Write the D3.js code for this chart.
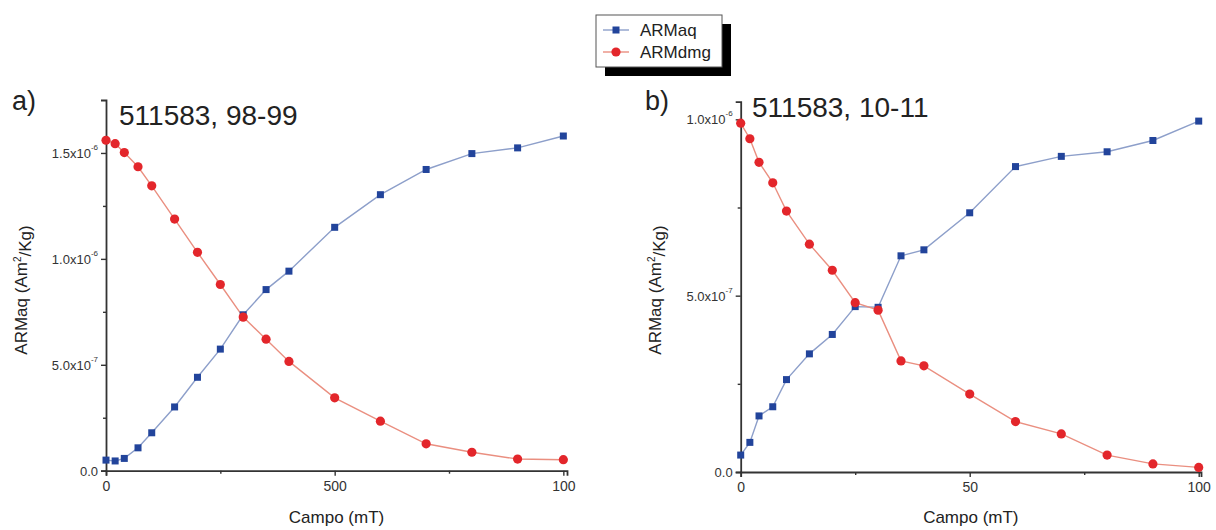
<!DOCTYPE html>
<html>
<head>
<meta charset="utf-8">
<script src="https://cdn.jsdelivr.net/npm/d3@7"></script>
<style>
  body { margin: 0; background: #fff; }
  text { font-family: Arial, "Liberation Sans", sans-serif; }
</style>
</head>
<body>
<svg id="chart" width="1216" height="530"></svg>
<script>
// panel a) 511583, 98-99
const fieldA = [0, 20, 40, 70, 100, 150, 200, 250, 300, 350, 400, 500, 600, 700, 800, 900, 1000];
const armaqA = [5.0e-8, 4.6e-8, 5.8e-8, 1.08e-7, 1.79e-7, 3.01e-7, 4.41e-7, 5.74e-7, 7.36e-7, 8.55e-7, 9.42e-7,
  1.149e-6, 1.303e-6, 1.422e-6, 1.497e-6, 1.524e-6, 1.58e-6];
const armdmgA = [1.56e-6, 1.544e-6, 1.502e-6, 1.435e-6, 1.345e-6, 1.188e-6, 1.031e-6, 8.79e-7, 7.25e-7, 6.21e-7, 5.16e-7,
  3.44e-7, 2.34e-7, 1.27e-7, 8.7e-8, 5.5e-8, 5.2e-8];
const xTicksA = [0, 500, 1000];
const xTickLabelsA = ["0", "500", "100"];
const xMinorA = [250, 750];
const yTicksA = [0, 5e-7, 1e-6, 1.5e-6];
const yTickLabelsA = ["0.0", "5.0x10^-7", "1.0x10^-6", "1.5x10^-6"];
const yMinorA = [2.5e-7, 7.5e-7, 1.25e-6];

// panel b) 511583, 10-11
const fieldB = [0, 2, 4, 7, 10, 15, 20, 25, 30, 35, 40, 50, 60, 70, 80, 90, 100];
const armaqB = [4.8e-8, 8.4e-8, 1.59e-7, 1.85e-7, 2.62e-7, 3.35e-7, 3.9e-7, 4.69e-7, 4.67e-7, 6.13e-7, 6.3e-7,
  7.35e-7, 8.66e-7, 8.95e-7, 9.08e-7, 9.4e-7, 9.95e-7];
const armdmgB = [9.89e-7, 9.45e-7, 8.78e-7, 8.2e-7, 7.4e-7, 6.46e-7, 5.72e-7, 4.8e-7, 4.59e-7, 3.15e-7, 3.01e-7,
  2.21e-7, 1.43e-7, 1.08e-7, 4.8e-8, 2.3e-8, 1.3e-8];
const xTicksB = [0, 50, 100];
const xTickLabelsB = ["0", "50", "100"];
const xMinorB = [25, 75];
const yTicksB = [0, 5e-7, 1e-6];
const yTickLabelsB = ["0.0", "5.0x10^-7", "1.0x10^-6"];
const yMinorB = [2.5e-7, 7.5e-7];

const seriesNames = ["ARMaq", "ARMdmg"];
const blue = "#22449b", blueLine = "#8d9fca";
const red = "#e3262b", redLine = "#ea8f80";
const axisColor = "#333";

const svg = d3.select("#chart");

function drawPanel(p) {
  const x = d3.scaleLinear().domain(p.xDomain).range(p.xRange);
  const y = d3.scaleLinear().domain(p.yDomain).range(p.yRange);
  const g = svg.append("g");

  // x axis
  const xAxis = g.append("g")
    .attr("transform", `translate(0,${p.yRange[0]})`)
    .call(d3.axisBottom(x).tickValues(p.xTicks).tickSizeOuter(0).tickSize(5)
      .tickFormat((d, i) => p.xLabels[i]));
  g.append("g")
    .attr("transform", `translate(0,${p.yRange[0]})`)
    .call(d3.axisBottom(x).tickValues(p.xMinor).tickSizeOuter(0).tickSize(3).tickFormat(""))
    .select(".domain").remove();

  // y axis
  const yAxis = g.append("g")
    .attr("transform", `translate(${p.xRange[0]},0)`)
    .call(d3.axisLeft(y).tickValues(p.yTicks).tickSizeOuter(0).tickSize(5).tickFormat(""));
  g.append("g")
    .attr("transform", `translate(${p.xRange[0]},0)`)
    .call(d3.axisLeft(y).tickValues(p.yMinor).tickSizeOuter(0).tickSize(3).tickFormat(""))
    .select(".domain").remove();

  g.selectAll(".domain").attr("stroke", axisColor).attr("stroke-width", 1.8);
  g.selectAll(".tick line").attr("stroke", axisColor).attr("stroke-width", 1.4);

  xAxis.selectAll(".tick text")
    .attr("font-size", 14).attr("fill", "#333").attr("dy", "0.85em");

  // y tick labels with superscript exponent
  yAxis.selectAll(".tick").each(function (d, i) {
    const parts = p.yLabels[i].split("^");
    const t = d3.select(this).append("text")
      .attr("x", -8).attr("dy", "0.35em")
      .attr("text-anchor", "end").attr("fill", "#333").attr("font-size", 13);
    t.append("tspan").text(parts[0]);
    if (parts[1]) {
      t.append("tspan").attr("font-size", 8).attr("dy", "-1em").text(parts[1]);
    }
  });

  const line = d3.line().x((d) => x(d[0])).y((d) => y(d[1]));
  const aq = p.field.map((f, i) => [f, p.armaq[i]]);
  const dmg = p.field.map((f, i) => [f, p.armdmg[i]]);

  g.append("path").datum(aq).attr("d", line)
    .attr("fill", "none").attr("stroke", blueLine).attr("stroke-width", 1.4);
  g.append("path").datum(dmg).attr("d", line)
    .attr("fill", "none").attr("stroke", redLine).attr("stroke-width", 1.4);

  g.selectAll(".sq").data(aq).enter().append("rect")
    .attr("x", (d) => x(d[0]) - 3.5).attr("y", (d) => y(d[1]) - 3.5)
    .attr("width", 7).attr("height", 7).attr("fill", blue);
  g.selectAll(".dot").data(dmg).enter().append("circle")
    .attr("cx", (d) => x(d[0])).attr("cy", (d) => y(d[1]))
    .attr("r", 4.6).attr("fill", red);

  // axis titles
  g.append("text")
    .attr("x", (p.xRange[0] + p.xRange[1]) / 2).attr("y", 523)
    .attr("text-anchor", "middle").attr("font-size", 17).attr("fill", "#222")
    .text("Campo (mT)");
  const ly = g.append("text")
    .attr("transform", `translate(${p.yTitleX},${p.yTitleY}) rotate(-90)`)
    .attr("text-anchor", "middle").attr("font-size", 17).attr("fill", "#222");
  ly.append("tspan").text("ARMaq (Am");
  ly.append("tspan").attr("font-size", 10).attr("dy", "-0.6em").text("2");
  ly.append("tspan").attr("dy", "0.6em").text("/Kg)");

  // panel letter and title
  g.append("text").attr("x", p.letterX).attr("y", 110)
    .attr("font-size", 27).attr("fill", "#222").text(p.letter);
  g.append("text").attr("x", p.titleX).attr("y", p.titleY)
    .attr("font-size", 28).attr("fill", "#222").text(p.title);
}

drawPanel({
  field: fieldA, armaq: armaqA, armdmg: armdmgA,
  xDomain: [0, 1008], xRange: [106, 567],
  yDomain: [0, 1.75e-6], yRange: [470.7, 100],
  xTicks: xTicksA, xLabels: xTickLabelsA, xMinor: xMinorA,
  yTicks: yTicksA, yLabels: yTickLabelsA, yMinor: yMinorA,
  yTitleX: 27, yTitleY: 290,
  letter: "a)", letterX: 12, title: "511583, 98-99", titleX: 119, titleY: 125
});

drawPanel({
  field: fieldB, armaq: armaqB, armdmg: armdmgB,
  xDomain: [0, 100.5], xRange: [740.7, 1201],
  yDomain: [0, 1.05e-6], yRange: [472, 101.7],
  xTicks: xTicksB, xLabels: xTickLabelsB, xMinor: xMinorB,
  yTicks: yTicksB, yLabels: yTickLabelsB, yMinor: yMinorB,
  yTitleX: 661, yTitleY: 290,
  letter: "b)", letterX: 645, title: "511583, 10-11", titleX: 752, titleY: 117
});

// legend with drop shadow
const legend = svg.append("g").attr("transform", "translate(596,15)");
legend.append("rect").attr("x", 9).attr("y", 9).attr("width", 126).attr("height", 52).attr("fill", "#000");
legend.append("rect").attr("x", 0).attr("y", 0).attr("width", 126).attr("height", 52)
  .attr("fill", "#fff").attr("stroke", "#555").attr("stroke-width", 1);
seriesNames.forEach((name, i) => {
  const cy = 15 + i * 22;
  legend.append("line").attr("x1", 7).attr("x2", 33).attr("y1", cy).attr("y2", cy)
    .attr("stroke", i === 0 ? blueLine : redLine).attr("stroke-width", 1.4);
  if (i === 0) {
    legend.append("rect").attr("x", 16.5).attr("y", cy - 3.5).attr("width", 7).attr("height", 7).attr("fill", blue);
  } else {
    legend.append("circle").attr("cx", 20).attr("cy", cy).attr("r", 4.6).attr("fill", red);
  }
  legend.append("text").attr("x", 44).attr("y", cy).attr("dy", "0.35em")
    .attr("font-size", 17).attr("fill", "#222").text(name);
});
</script>
</body>
</html>
